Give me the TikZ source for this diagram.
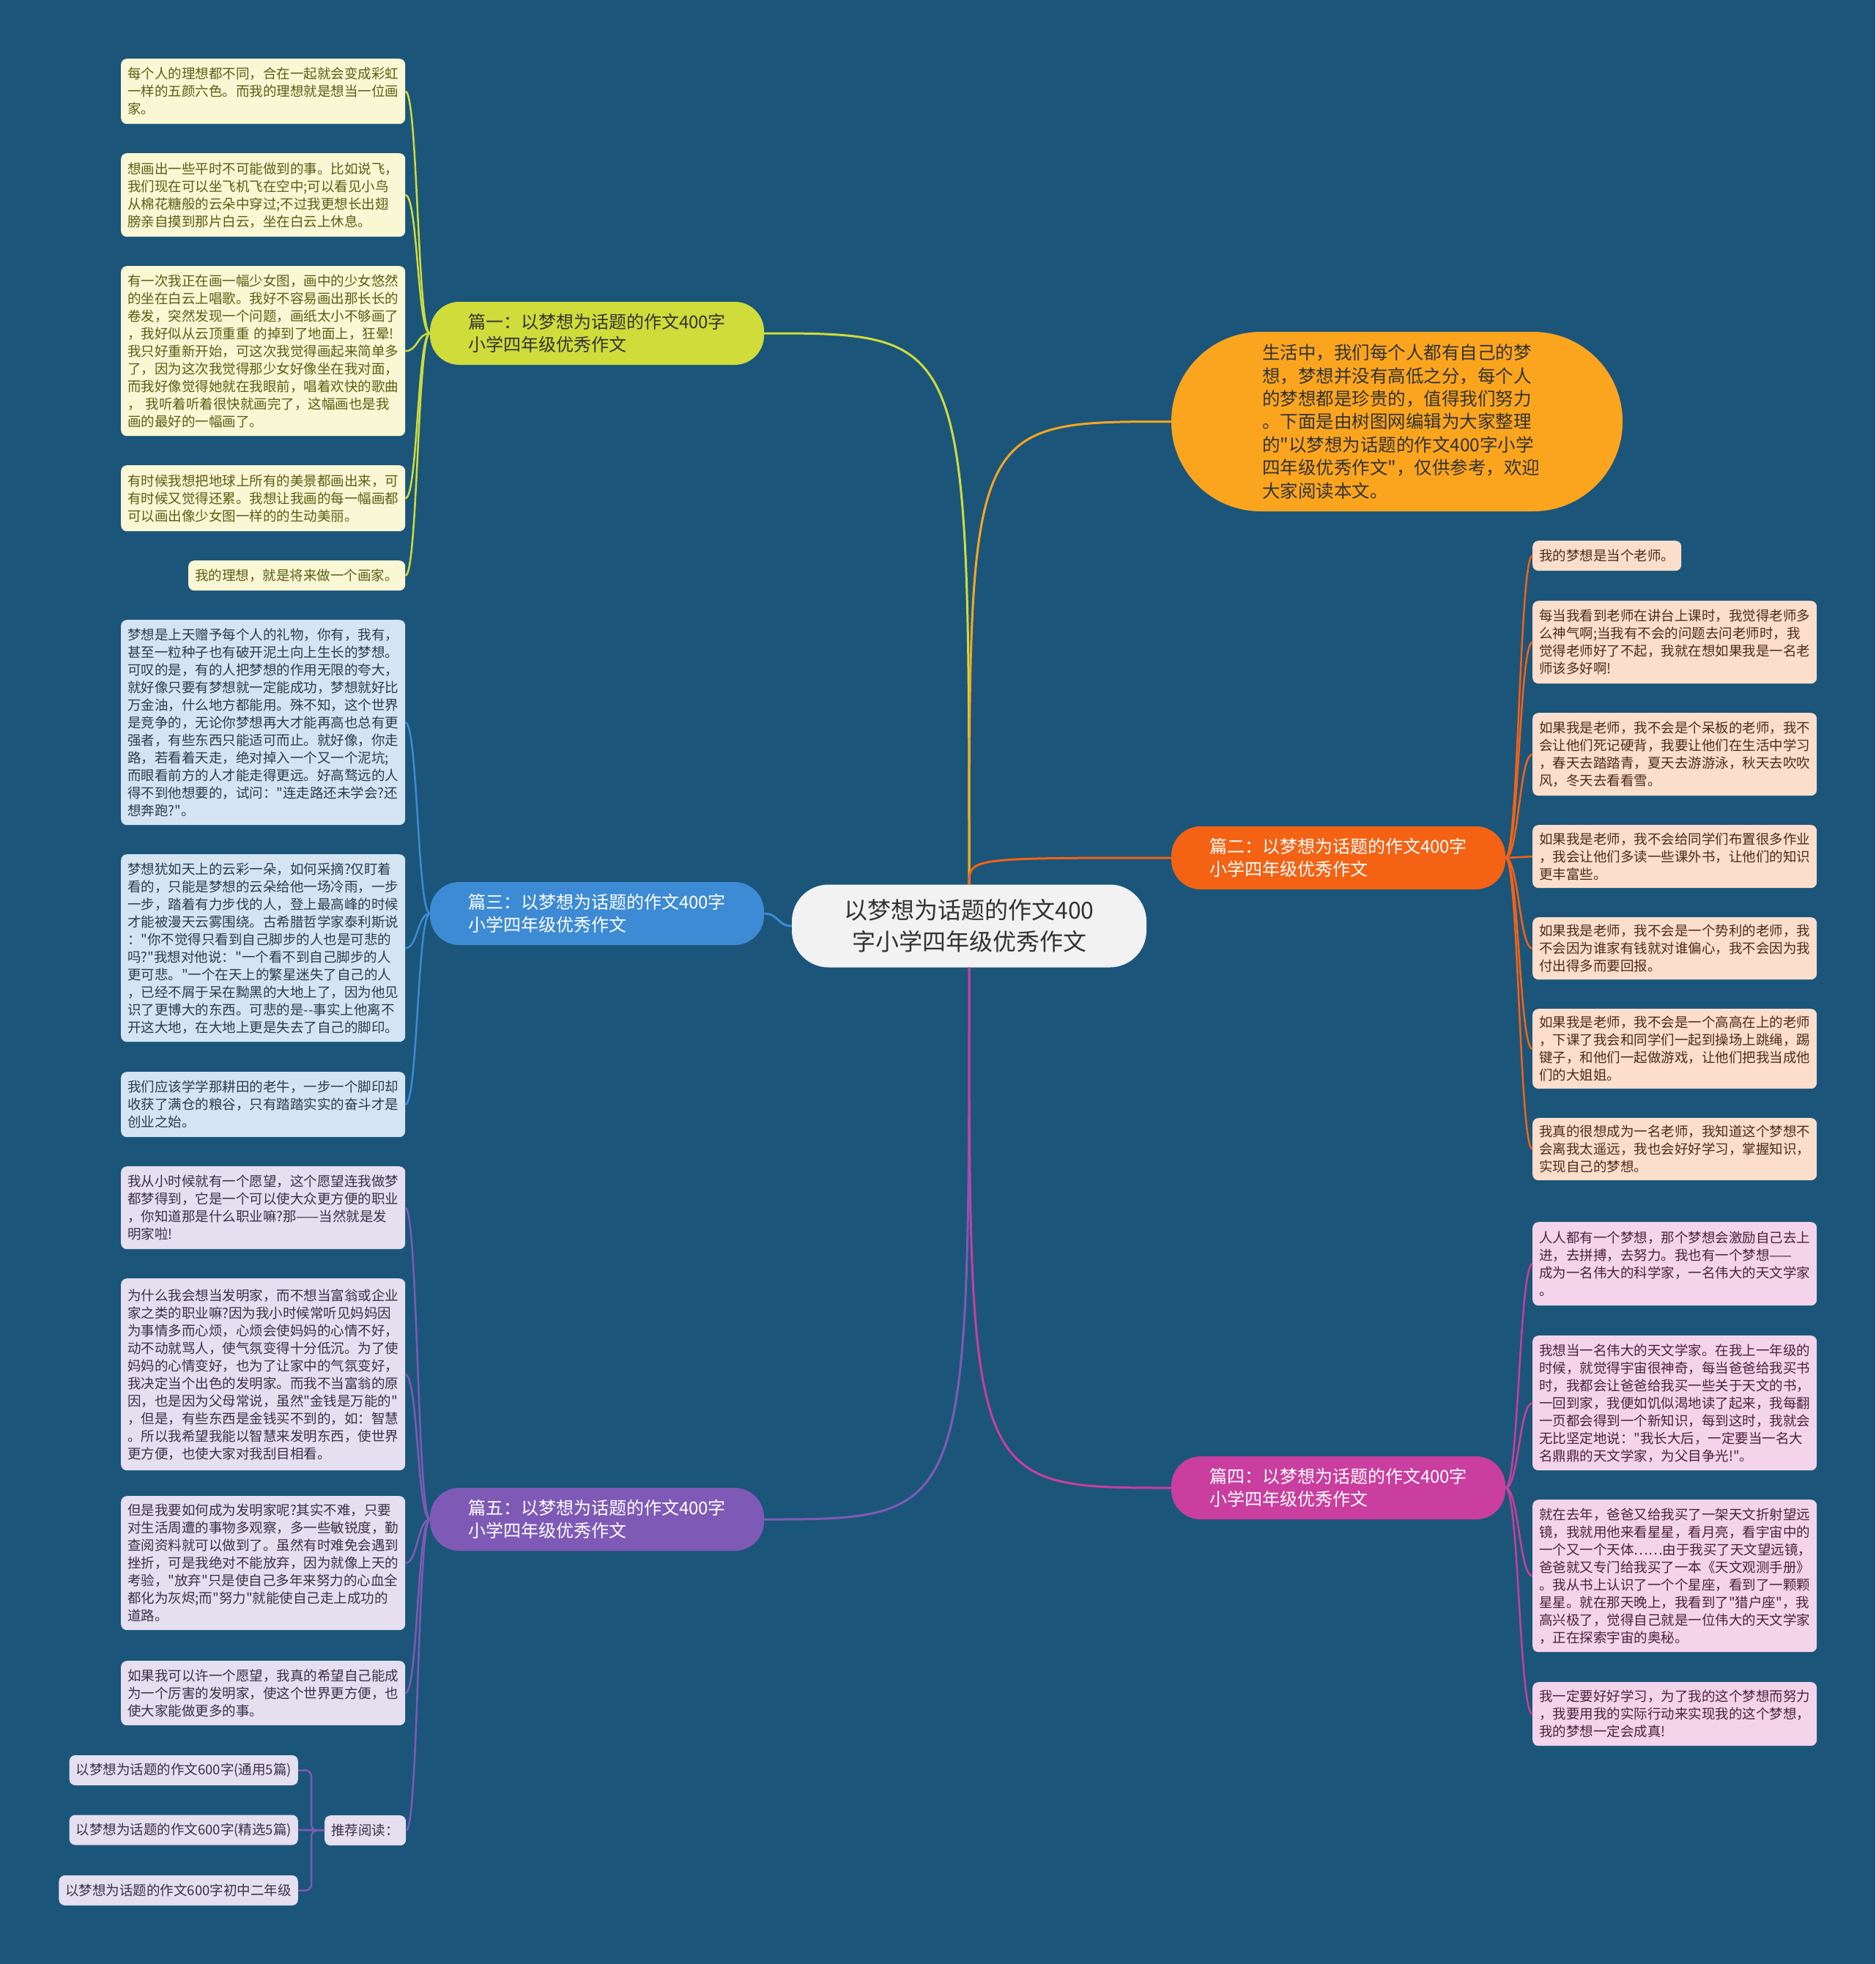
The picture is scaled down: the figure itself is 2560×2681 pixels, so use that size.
\documentclass[tikz,border=0pt]{standalone}
\usepackage{fontspec}
\setmainfont{Noto Sans CJK SC}[Ligatures=TeXOff]
\usetikzlibrary{calc}
\definecolor{bg}{HTML}{1B557A}
\definecolor{cA}{HTML}{CFDC3A}
\definecolor{cO}{HTML}{FBA51F}
\definecolor{cD}{HTML}{F46214}
\definecolor{cB}{HTML}{3D8BD4}
\definecolor{cE}{HTML}{C93E9E}
\definecolor{cC}{HTML}{7E5AB6}
\definecolor{fA}{HTML}{FAF7D4}
\definecolor{tA}{HTML}{5A5E14}
\definecolor{fB}{HTML}{D4E4F3}
\definecolor{tB}{HTML}{2E3B48}
\definecolor{fC}{HTML}{E5DFF0}
\definecolor{tC}{HTML}{3A3048}
\definecolor{fD}{HTML}{FCDECD}
\definecolor{tD}{HTML}{4E2B1B}
\definecolor{fE}{HTML}{F4D4EA}
\definecolor{tE}{HTML}{4B2140}
\definecolor{cfill}{HTML}{F2F2F2}
\definecolor{ctext}{HTML}{333333}
\newcommand\lft[3]{\draw[conn,#1] (#2.west) .. controls +(-17,0) and +(17,0) .. (#3.east);}
\newcommand\rgt[3]{\draw[conn,#1] (#2.east) .. controls +(18,0) and +(-18,0) .. (#3.west);}
\begin{document}
\begin{tikzpicture}[x=1pt,y=-1pt,
  leafbase/.style={rounded corners=8pt, inner xsep=9pt, inner ysep=0pt, text width=370pt, align=left, anchor=north west, font=\fontsize{18.5pt}{24pt}\selectfont},
  leafA/.style={leafbase, fill=fA, text=tA},
  leafB/.style={leafbase, fill=fB, text=tB},
  leafC/.style={leafbase, fill=fC, text=tC},
  leafD/.style={leafbase, fill=fD, text=tD},
  leafE/.style={leafbase, fill=fE, text=tE},
  recbox/.style={rounded corners=8pt, inner xsep=9pt, inner ysep=0pt, minimum height=41pt, anchor=east, fill=fC, text=tC, font=\fontsize{18.5pt}{24pt}\selectfont},
  branchbox/.style={rounded corners=40pt, minimum width=456pt, minimum height=86pt, text width=352pt, align=left, inner sep=0pt, font=\fontsize{24pt}{31pt}\selectfont},
  conn/.style={line width=2.5pt},
  bline/.style={line width=3pt}]
\useasboundingbox (0,0) rectangle (2560,2681);
\fill[bg] (0,0) rectangle (2560,2681);

% center
\node[fill=cfill, text=ctext, rounded corners=50pt, minimum width=484pt, minimum height=113pt, align=center, inner sep=0pt, font=\fontsize{32pt}{43pt}\selectfont] (c) at (1323,1264) {以梦想为话题的作文400\\字小学四年级优秀作文};

% intro
\node[fill=cO, text=ctext, rounded corners=122pt, minimum width=616pt, minimum height=245pt, text width=368pt, align=left, inner sep=0pt, font=\fontsize{24.5pt}{31.4pt}\selectfont] (intro) at (1907,575.5) {生活中，我们每个人都有自己的梦\\想，梦想并没有高低之分，每个人\\的梦想都是珍贵的，值得我们努力\\。下面是由树图网编辑为大家整理\\的"以梦想为话题的作文400字小学\\四年级优秀作文"，仅供参考，欢迎\\大家阅读本文。};

% branches
\node[branchbox, fill=cA, text=ctext] (p1) at (815,455) {篇一：以梦想为话题的作文400字\\小学四年级优秀作文};
\node[branchbox, fill=cB, text=white] (p3) at (815,1247) {篇三：以梦想为话题的作文400字\\小学四年级优秀作文};
\node[branchbox, fill=cC, text=white] (p5) at (815,2074) {篇五：以梦想为话题的作文400字\\小学四年级优秀作文};
\node[branchbox, fill=cD, text=white] (p2) at (1827,1171) {篇二：以梦想为话题的作文400字\\小学四年级优秀作文};
\node[branchbox, fill=cE, text=white] (p4) at (1827,2031) {篇四：以梦想为话题的作文400字\\小学四年级优秀作文};

% 篇一 leaves
\node[leafA, minimum height=89pt] (a1) at (165,80) {每个人的理想都不同，合在一起就会变成彩虹\\一样的五颜六色。而我的理想就是想当一位画\\家。};
\node[leafA, minimum height=114pt] (a2) at (165,209) {想画出一些平时不可能做到的事。比如说飞，\\我们现在可以坐飞机飞在空中;可以看见小鸟\\从棉花糖般的云朵中穿过;不过我更想长出翅\\膀亲自摸到那片白云，坐在白云上休息。};
\node[leafA, minimum height=232pt] (a3) at (165,363) {有一次我正在画一幅少女图，画中的少女悠然\\的坐在白云上唱歌。我好不容易画出那长长的\\卷发，突然发现一个问题，画纸太小不够画了\\，我好似从云顶重重 的掉到了地面上，狂晕!\\我只好重新开始，可这次我觉得画起来简单多\\了，因为这次我觉得那少女好像坐在我对面，\\而我好像觉得她就在我眼前，唱着欢快的歌曲\\， 我听着听着很快就画完了，这幅画也是我\\画的最好的一幅画了。};
\node[leafA, minimum height=90pt] (a4) at (165,635) {有时候我想把地球上所有的美景都画出来，可\\有时候又觉得还累。我想让我画的每一幅画都\\可以画出像少女图一样的的生动美丽。};
\node[leafA, minimum height=41pt, text width=278pt] (a5) at (257,765) {我的理想，就是将来做一个画家。};

% 篇三 leaves
\node[leafB, minimum height=280pt] (b1) at (165,846) {梦想是上天赠予每个人的礼物，你有，我有，\\甚至一粒种子也有破开泥土向上生长的梦想。\\可叹的是，有的人把梦想的作用无限的夸大，\\就好像只要有梦想就一定能成功，梦想就好比\\万金油，什么地方都能用。殊不知，这个世界\\是竞争的，无论你梦想再大才能再高也总有更\\强者，有些东西只能适可而止。就好像，你走\\路，若看着天走，绝对掉入一个又一个泥坑;\\而眼看前方的人才能走得更远。好高骛远的人\\得不到他想要的，试问："连走路还未学会?还\\想奔跑?"。};
\node[leafB, minimum height=256pt] (b2) at (165,1166) {梦想犹如天上的云彩一朵，如何采摘?仅盯着\\看的，只能是梦想的云朵给他一场冷雨，一步\\一步，踏着有力步伐的人，登上最高峰的时候\\才能被漫天云雾围绕。古希腊哲学家泰利斯说\\："你不觉得只看到自己脚步的人也是可悲的\\吗?"我想对他说："一个看不到自己脚步的人\\更可悲。"一个在天上的繁星迷失了自己的人\\，已经不屑于呆在黝黑的大地上了，因为他见\\识了更博大的东西。可悲的是-{}-事实上他离不\\开这大地，在大地上更是失去了自己的脚印。};
\node[leafB, minimum height=89pt] (b3) at (165,1463) {我们应该学学那耕田的老牛，一步一个脚印却\\收获了满仓的粮谷，只有踏踏实实的奋斗才是\\创业之始。};

% 篇五 leaves
\node[leafC, minimum height=113pt] (e1x) at (165,1592) {我从小时候就有一个愿望，这个愿望连我做梦\\都梦得到，它是一个可以使大众更方便的职业\\，你知道那是什么职业嘛?那——当然就是发\\明家啦!};
\node[leafC, minimum height=262pt] (e2x) at (165,1745) {为什么我会想当发明家，而不想当富翁或企业\\家之类的职业嘛?因为我小时候常听见妈妈因\\为事情多而心烦，心烦会使妈妈的心情不好，\\动不动就骂人，使气氛变得十分低沉。为了使\\妈妈的心情变好，也为了让家中的气氛变好，\\我决定当个出色的发明家。而我不当富翁的原\\因，也是因为父母常说，虽然"金钱是万能的"\\，但是，有些东西是金钱买不到的，如：智慧\\。所以我希望我能以智慧来发明东西，使世界\\更方便，也使大家对我刮目相看。};
\node[leafC, minimum height=183pt] (e3x) at (165,2042) {但是我要如何成为发明家呢?其实不难，只要\\对生活周遭的事物多观察，多一些敏锐度，勤\\查阅资料就可以做到了。虽然有时难免会遇到\\挫折，可是我绝对不能放弃，因为就像上天的\\考验，"放弃"只是使自己多年来努力的心血全\\都化为灰烬;而"努力"就能使自己走上成功的\\道路。};
\node[leafC, minimum height=88pt] (e4x) at (165,2267) {如果我可以许一个愿望，我真的希望自己能成\\为一个厉害的发明家，使这个世界更方便，也\\使大家能做更多的事。};
\node[leafC, minimum height=41pt, text width=93pt] (rec) at (443,2478) {推荐阅读：};
\node[recbox] (r1) at (407,2416.5) {以梦想为话题的作文600字(通用5篇)};
\node[recbox] (r2) at (407,2498) {以梦想为话题的作文600字(精选5篇)};
\node[recbox] (r3) at (407,2580.5) {以梦想为话题的作文600字初中二年级};

% 篇二 leaves
\node[leafD, minimum height=41pt, text width=185pt] (d1) at (2092,738) {我的梦想是当个老师。};
\node[leafD, minimum height=113pt] (d2) at (2092,820) {每当我看到老师在讲台上课时，我觉得老师多\\么神气啊;当我有不会的问题去问老师时，我\\觉得老师好了不起，我就在想如果我是一名老\\师该多好啊!};
\node[leafD, minimum height=113pt] (d3) at (2092,973) {如果我是老师，我不会是个呆板的老师，我不\\会让他们死记硬背，我要让他们在生活中学习\\，春天去踏踏青，夏天去游游泳，秋天去吹吹\\风，冬天去看看雪。};
\node[leafD, minimum height=86pt] (d4) at (2092,1126) {如果我是老师，我不会给同学们布置很多作业\\，我会让他们多读一些课外书，让他们的知识\\更丰富些。};
\node[leafD, minimum height=85pt] (d5) at (2092,1252) {如果我是老师，我不会是一个势利的老师，我\\不会因为谁家有钱就对谁偏心，我不会因为我\\付出得多而要回报。};
\node[leafD, minimum height=109pt] (d6) at (2092,1377) {如果我是老师，我不会是一个高高在上的老师\\，下课了我会和同学们一起到操场上跳绳，踢\\键子，和他们一起做游戏，让他们把我当成他\\们的大姐姐。};
\node[leafD, minimum height=85pt] (d7) at (2092,1526) {我真的很想成为一名老师，我知道这个梦想不\\会离我太遥远，我也会好好学习，掌握知识，\\实现自己的梦想。};

% 篇四 leaves
\node[leafE, minimum height=114pt] (f1) at (2092,1668) {人人都有一个梦想，那个梦想会激励自己去上\\进，去拼搏，去努力。我也有一个梦想——\\成为一名伟大的科学家，一名伟大的天文学家\\。};
\node[leafE, minimum height=184pt] (f2) at (2092,1823) {我想当一名伟大的天文学家。在我上一年级的\\时候，就觉得宇宙很神奇，每当爸爸给我买书\\时，我都会让爸爸给我买一些关于天文的书，\\一回到家，我便如饥似渴地读了起来，我每翻\\一页都会得到一个新知识，每到这时，我就会\\无比坚定地说："我长大后，一定要当一名大\\名鼎鼎的天文学家，为父目争光!"。};
\node[leafE, minimum height=208pt] (f3) at (2092,2047) {就在去年，爸爸又给我买了一架天文折射望远\\镜，我就用他来看星星，看月亮，看宇宙中的\\一个又一个天体……由于我买了天文望远镜，\\爸爸就又专门给我买了一本《天文观测手册》\\。我从书上认识了一个个星座，看到了一颗颗\\星星。就在那天晚上，我看到了"猎户座"，我\\高兴极了，觉得自己就是一位伟大的天文学家\\，正在探索宇宙的奥秘。};
\node[leafE, minimum height=87pt] (f4) at (2092,2296) {我一定要好好学习，为了我的这个梦想而努力\\，我要用我的实际行动来实现我的这个梦想，\\我的梦想一定会成真!};

% main connectors
\draw[bline, cA] (c.north) .. controls (c.north |- p1.east) .. (p1.east);
\draw[bline, cO] (c.north) .. controls (c.north |- intro.west) .. (intro.west);
\draw[bline, cD] (c.north) .. controls (c.north |- p2.west) .. (p2.west);
\draw[bline, cB] (c.west) .. controls +(-19,0) and +(19,0) .. (p3.east);
\draw[bline, cC] (c.south) .. controls (c.south |- p5.east) .. (p5.east);
\draw[bline, cE] (c.south) .. controls (c.south |- p4.west) .. (p4.west);

% leaf connectors
\foreach \n in {a1,a2,a3,a4,a5}{\lft{cA}{p1}{\n}}
\foreach \n in {b1,b2,b3}{\lft{cB}{p3}{\n}}
\foreach \n in {e1x,e2x,e3x,e4x,rec}{\lft{cC}{p5}{\n}}
\foreach \n in {d1,d2,d3,d4,d5,d6,d7}{\rgt{cD}{p2}{\n}}
\foreach \n in {f1,f2,f3,f4}{\rgt{cE}{p4}{\n}}
\draw[conn, cC, rounded corners=8pt] (rec.west) -- ++(-18,0) |- (r1.east);
\draw[conn, cC] (rec.west) -- (r2.east);
\draw[conn, cC, rounded corners=8pt] (rec.west) -- ++(-18,0) |- (r3.east);
\end{tikzpicture}
\end{document}
